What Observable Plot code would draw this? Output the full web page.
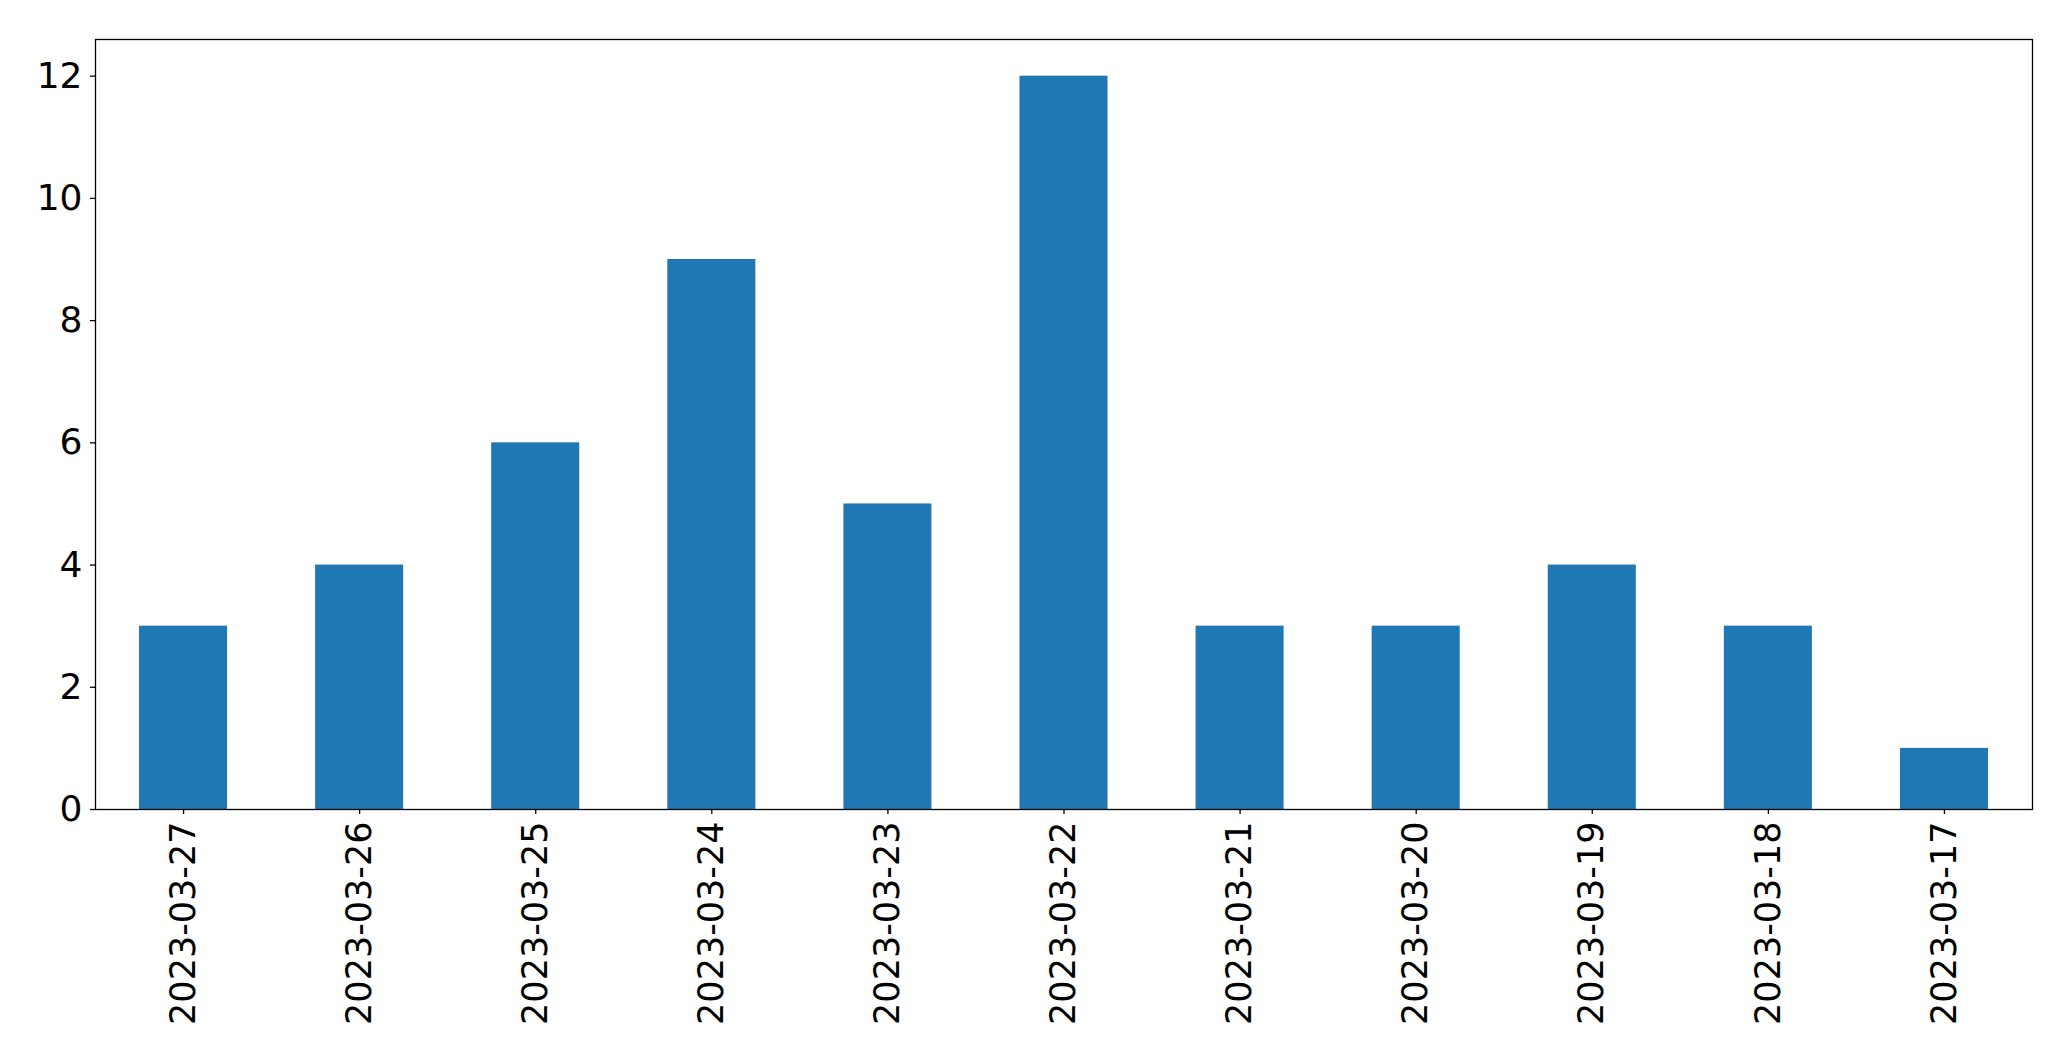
<!DOCTYPE html>
<html>
<head>
<meta charset="utf-8">
<script src="https://cdn.jsdelivr.net/npm/d3@7"></script>
<script src="https://cdn.jsdelivr.net/npm/@observablehq/plot@0.6"></script>
<style>
  html, body { margin: 0; padding: 0; background: #fff; }
  #chart svg { display: block; }
</style>
</head>
<body>
<div id="chart"></div>
<script>
const dates = ["2023-03-27","2023-03-26","2023-03-25","2023-03-24","2023-03-23","2023-03-22","2023-03-21","2023-03-20","2023-03-19","2023-03-18","2023-03-17"];
const counts = [3, 4, 6, 9, 5, 12, 3, 3, 4, 3, 1];
const yTicks = [0, 2, 4, 6, 8, 10, 12];

const data = dates.map((d, i) => ({date: d, count: counts[i]}));

const chart = Plot.plot({
  width: 2071,
  height: 1061,
  marginLeft: 95,
  marginRight: 39,
  marginTop: 39,
  marginBottom: 252,
  style: {fontFamily: "DejaVu Sans", fontSize: "35px", color: "black", background: "white"},
  x: {domain: dates, paddingInner: 0.5, paddingOuter: 0.25, round: false, label: null},
  y: {domain: [0, 12.6], label: null},
  marks: [
    Plot.barY(data, {x: "date", y: "count", fill: "#1f77b4"}),
    Plot.frame({stroke: "black", strokeWidth: 1.3}),
    Plot.axisY({ticks: yTicks, tickSize: 5, tickPadding: 8, fontSize: 36, label: null, stroke: "black", strokeWidth: 1.3}),
    Plot.axisX({tickRotate: -90, tickSize: 5, tickPadding: 7, fontSize: 35, label: null, stroke: "black", strokeWidth: 1.3})
  ]
});
document.getElementById("chart").appendChild(chart);
</script>
</body>
</html>
